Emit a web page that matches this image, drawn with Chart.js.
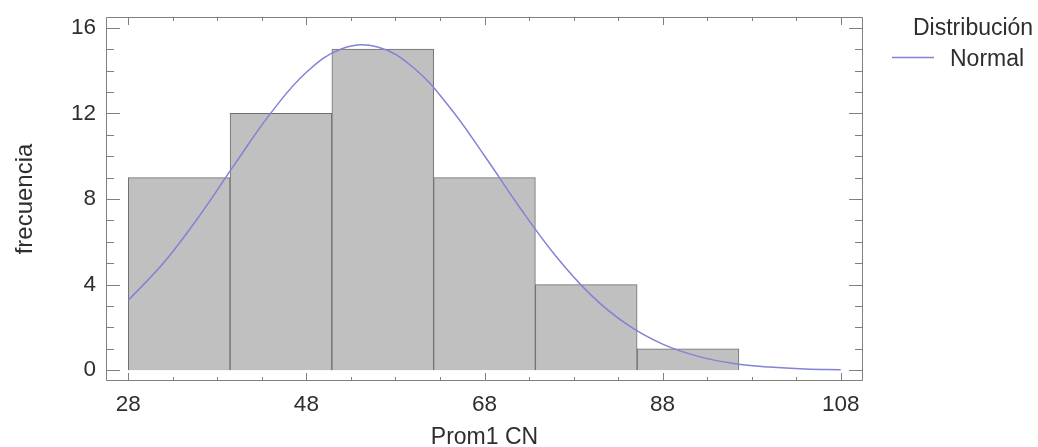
<!DOCTYPE html>
<html>
<head>
<meta charset="utf-8">
<script src="https://cdn.jsdelivr.net/npm/chart.js@4.4.1/dist/chart.umd.min.js"></script>
<style>
  html, body { margin: 0; padding: 0; background: #fff; }
</style>
</head>
<body>
<canvas id="hist" width="1038" height="447"></canvas>
<script>
// Histogram: bin edges and counts
const binEdges = [28, 39.43, 50.86, 62.29, 73.71, 85.14, 96.57, 108];
const counts = [9, 12, 15, 9, 4, 1, 0];

// Fitted normal curve
const curveX = [28, 32, 36, 40, 44, 48, 52, 56, 60, 64, 68, 72, 76, 80, 84, 88, 92, 96, 100, 104, 108];
const curveY = [3.27, 5.03, 7.22, 9.65, 12.01, 13.92, 15.02, 15.10, 14.14, 12.33, 10.02, 7.58, 5.34, 3.50, 2.14, 1.22, 0.65, 0.32, 0.15, 0.06, 0.03];

// Axis ticks
const xTicks = [28, 48, 68, 88, 108];
const yTicks = [0, 4, 8, 12, 16];
const xMinorStep = 5;
const yMinorStep = 1;

const xTitle = 'Prom1 CN';
const yTitle = 'frecuencia';
const legendTitle = 'Distribución';
const curveLabel = 'Normal';

const FONT = '"Liberation Sans", Arial, sans-serif';
const TEXT = '#2e2e2e';
const FRAME = '#808080';
const CURVE = 'rgb(130, 130, 215)';

const bars = counts.map((c, i) => ({ x: (binEdges[i] + binEdges[i + 1]) / 2, y: c }));
const curve = curveX.map((x, i) => ({ x: x, y: curveY[i] }));

// frame around the plot with inward ticks on all four sides
const framePlugin = {
    id: 'frame',
    afterDatasetsDraw(chart) {
        const { ctx, chartArea: a, scales: { x, y } } = chart;
        ctx.save();
        ctx.strokeStyle = FRAME;
        ctx.lineWidth = 1;
        ctx.beginPath();
        ctx.rect(a.left + 0.5, a.top + 0.5, a.right - a.left - 1, a.bottom - a.top - 1);
        const xLast = xTicks[xTicks.length - 1];
        for (let v = xTicks[0]; v <= xLast; v += xMinorStep) {
            const px = Math.round(x.getPixelForValue(v)) + 0.5;
            const len = xTicks.includes(v) ? 8 : 4;
            ctx.moveTo(px, a.bottom); ctx.lineTo(px, a.bottom - len);
            ctx.moveTo(px, a.top); ctx.lineTo(px, a.top + len);
        }
        const yLast = yTicks[yTicks.length - 1];
        for (let v = yTicks[0]; v <= yLast; v += yMinorStep) {
            const py = Math.round(y.getPixelForValue(v)) + 0.5;
            const len = yTicks.includes(v) ? 14 : 8;
            ctx.moveTo(a.left, py); ctx.lineTo(a.left + len, py);
            ctx.moveTo(a.right, py); ctx.lineTo(a.right - len, py);
        }
        ctx.stroke();
        ctx.restore();
    }
};

// legend on the right: title plus a line sample
const legendPlugin = {
    id: 'sideLegend',
    afterDraw(chart) {
        const ctx = chart.ctx;
        ctx.save();
        ctx.font = '23px ' + FONT;
        ctx.fillStyle = TEXT;
        ctx.textAlign = 'left';
        ctx.textBaseline = 'alphabetic';
        ctx.fillText(legendTitle, 913, 35);
        ctx.fillText(curveLabel, 950, 66);
        ctx.strokeStyle = CURVE;
        ctx.lineWidth = 1.5;
        ctx.beginPath();
        ctx.moveTo(892, 57.5);
        ctx.lineTo(934, 57.5);
        ctx.stroke();
        ctx.restore();
    }
};

new Chart(document.getElementById('hist'), {
    type: 'bar',
    data: {
        datasets: [{
            type: 'line',
            label: curveLabel,
            data: curve,
            borderColor: CURVE,
            borderWidth: 1.5,
            pointRadius: 0,
            tension: 0.4,
            fill: false,
            order: 0
        }, {
            type: 'bar',
            label: 'frecuencia',
            data: bars,
            backgroundColor: '#c0c0c0',
            borderColor: '#6e6e6e',
            borderWidth: 1,
            barPercentage: 1,
            categoryPercentage: 1,
            order: 1
        }]
    },
    options: {
        responsive: false,
        animation: false,
        layout: { padding: { top: 17, right: 175, left: 0, bottom: 0 } },
        plugins: {
            legend: { display: false },
            tooltip: { enabled: false }
        },
        scales: {
            x: {
                type: 'linear',
                offset: false,
                min: 25.5,
                max: 110.5,
                afterBuildTicks: scale => { scale.ticks = xTicks.map(v => ({ value: v })); },
                afterFit: scale => { scale.height = 66; scale.paddingLeft = 0; scale.paddingRight = 0; },
                grid: { display: false, drawTicks: false },
                border: { display: false },
                ticks: { color: TEXT, font: { family: FONT, size: 22.5 }, padding: 10, maxRotation: 0 },
                title: { display: true, text: xTitle, color: TEXT, font: { family: FONT, size: 23, lineHeight: 1 }, padding: { top: 0, bottom: -2 } }
            },
            y: {
                type: 'linear',
                min: -0.5,
                max: 16.5,
                afterBuildTicks: scale => { scale.ticks = yTicks.map(v => ({ value: v })); },
                afterFit: scale => { scale.width = 106; scale.paddingTop = 0; scale.paddingBottom = 0; },
                grid: { display: false, drawTicks: false },
                border: { display: false },
                ticks: { color: TEXT, font: { family: FONT, size: 22.5 }, padding: 10 },
                title: { display: true, text: yTitle, color: TEXT, font: { family: FONT, size: 24, lineHeight: 1 }, padding: { top: 13, bottom: 0 } }
            }
        }
    },
    plugins: [framePlugin, legendPlugin]
});
</script>
</body>
</html>
